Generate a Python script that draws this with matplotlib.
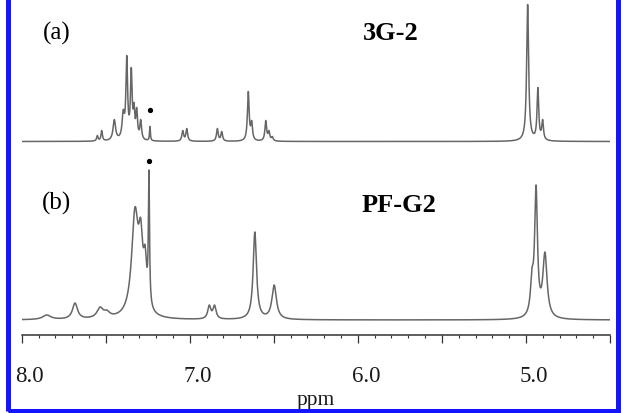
import numpy as np
import matplotlib
matplotlib.use("Agg")
import matplotlib.pyplot as plt
from matplotlib.patches import Rectangle
from matplotlib.ticker import MultipleLocator, FuncFormatter
from matplotlib.transforms import ScaledTranslation

plt.rcParams['font.family'] = ['Liberation Serif', 'DejaVu Serif']

# (a) 3G-2 : peak positions (ppm), observed heights, half widths (ppm)
a_ppm = [7.550, 7.524, 7.449, 7.396, 7.375, 7.348, 7.332, 7.316, 7.292, 7.237,
         7.042, 7.018, 6.836, 6.810, 6.652, 6.632, 6.548, 6.529, 6.509,
         4.990, 4.929, 4.901]
a_height = [6, 11, 22, 32, 86, 74, 39, 34, 22, 15,
            11, 13, 13, 10, 50, 21, 21, 11, 5,
            137, 54, 22]
a_width = [0.005, 0.005, 0.009, 0.008, 0.006, 0.006, 0.005, 0.006, 0.006, 0.003,
           0.006, 0.006, 0.006, 0.006, 0.006, 0.006, 0.006, 0.006, 0.006,
           0.007, 0.006, 0.006]

# (b) PF-G2
b_ppm = [7.851, 7.683, 7.534, 7.494, 7.326, 7.292, 7.266, 7.243,
         6.884, 6.853, 6.613, 6.498, 4.964, 4.940, 4.887]
b_height = [5, 17, 13, 10, 113, 102, 75, 150,
            15, 15, 88, 35, 52, 135, 68]
b_width = [0.03, 0.018, 0.022, 0.022, 0.024, 0.015, 0.011, 0.004,
           0.011, 0.011, 0.012, 0.016, 0.011, 0.01, 0.015]

labels = ['(a)', '(b)']
names = ['3G-2', 'PF-G2']
solvent = [7.237, 7.243]


def lor(x, x0, w):
    return 1.0 / (1.0 + ((x - x0) / w) ** 2)


def spectrum(x, pk, h, w):
    pk, h, w = np.array(pk), np.array(h, float), np.array(w)
    # amplitudes so that the summed curve hits the observed peak heights
    A = lor(pk[:, None], pk[None, :], w[None, :])
    amp = np.linalg.solve(A, h)
    return (lor(x[:, None], pk[None, :], w[None, :]) * amp).sum(axis=1)


W, H = 634, 413
fig = plt.figure(figsize=(W / 100, H / 100), dpi=100)
ax = fig.add_axes([21.7 / W, 1 - 335 / H, (610 - 21.7) / W, 335 / H])

x = np.linspace(8.0, 4.5, 8000)
ya = spectrum(x, a_ppm, a_height, a_width)
yb = spectrum(x, b_ppm, b_height, b_width)

base_a, base_b = 193.5, 15
ax.plot(x, base_a + ya, color='#666666', lw=1.1)
ax.plot(x, base_b + yb, color='#666666', lw=1.1)
ax.plot(solvent[0], 225, 'o', ms=2.8, color='black')
ax.plot(solvent[1], 174, 'o', ms=2.8, color='black')

ax.set_xlim(8.0, 4.5)
ax.set_ylim(0, 335)
for s in ['top', 'left', 'right']:
    ax.spines[s].set_visible(False)
ax.spines['bottom'].set_color('#333333')
ax.spines['bottom'].set_linewidth(1.1)
ax.yaxis.set_visible(False)
ax.set_xticks(np.arange(8.0, 4.49, -0.5))
ax.xaxis.set_minor_locator(MultipleLocator(0.1))
ax.xaxis.set_major_formatter(FuncFormatter(
    lambda v, p: f"{v:.1f}" if abs(v - round(v)) < 1e-6 else ""))
ax.tick_params(axis='x', which='major', direction='out', length=6, width=0.9,
               color='#333333', labelsize=16.5, pad=16, labelcolor='#1a1a1a')
ax.tick_params(axis='x', which='minor', direction='out', length=2.5, width=0.8,
               color='#333333')
off = ScaledTranslation(0.08, 0, fig.dpi_scale_trans)
for lab in ax.get_xticklabels():
    lab.set_transform(lab.get_transform() + off)
ax.set_xlabel('ppm', fontsize=15.5, labelpad=3, color='#1a1a1a')

fig.text(56.5 / W, 1 - 33 / H, labels[0], ha='center', va='center', fontsize=18)
fig.text(391 / W, 1 - 33 / H, names[0], ha='center', va='center', fontsize=19,
         fontweight='bold')
fig.text(56 / W, 1 - 203 / H, labels[1], ha='center', va='center', fontsize=18)
fig.text(399 / W, 1 - 205 / H, names[1], ha='center', va='center', fontsize=19,
         fontweight='bold')

fig.patches.append(Rectangle((7.5 / W, 2.5 / H), 610 / W, 1 - 1.5 / H,
                             transform=fig.transFigure, fill=False,
                             edgecolor='#1414ff', lw=3.6, clip_on=False))

fig.savefig('out.png', dpi=100)
